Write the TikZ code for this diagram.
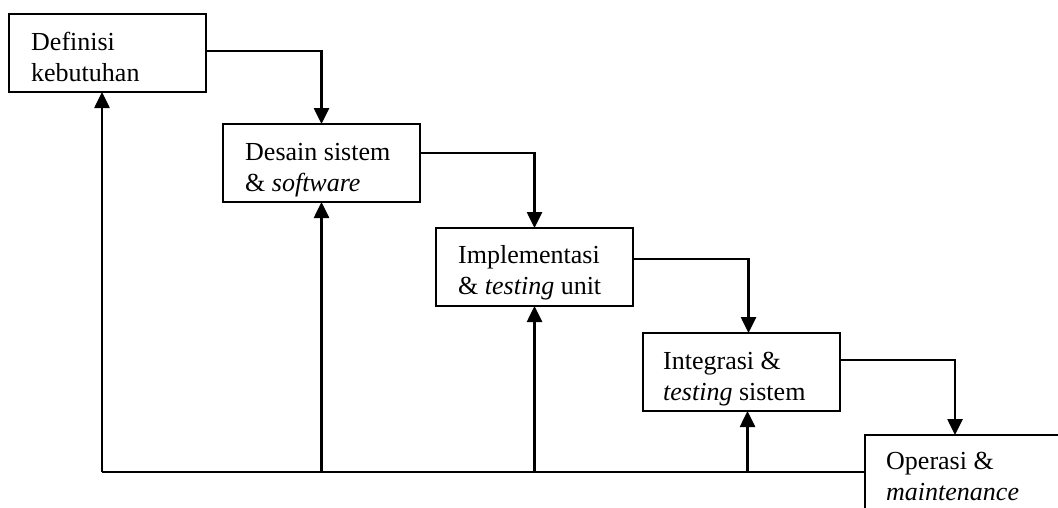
\documentclass[tikz,border=0pt]{standalone}
\usepackage{fontspec}
\setmainfont{Liberation Serif}
\usetikzlibrary{arrows.meta}
\tikzset{
  ar/.style={-{Triangle[length=16pt,width=15pt]},line width=2.6pt},
  ln/.style={line width=2.6pt},
  stagebox/.style={draw,line width=2pt,anchor=north west,inner sep=0pt,outer sep=0pt,minimum width=197pt,minimum height=78pt},
  lbl/.style={anchor=base west,align=left,inner sep=0pt,font=\fontsize{26}{31}\selectfont}
}

\begin{document}
\begin{tikzpicture}[x=1pt,y=-1pt]
\useasboundingbox (0,0) rectangle (1058,507);
\fill[white] (0,0) rectangle (1058,507);
\clip (0,0) rectangle (1058,507);
% tahapan
\node[stagebox] (def) at (9,14) {};
\node[stagebox] (des) at (223,124) {};
\node[stagebox] (imp) at (436,228) {};
\node[stagebox] (int) at (643,333) {};
\node[stagebox,minimum width=220pt,minimum height=90pt] (ops) at (865,435) {};
% base = baris terakhir
\node[lbl] (defl) at ([shift={(22,67)}]def.north west) {Definisi\\kebutuhan};
\node[lbl] (desl) at ([shift={(22,67)}]des.north west) {Desain sistem\\\& \textit{software}};
\node[lbl] (impl) at ([shift={(22,66)}]imp.north west) {Implementasi\\\& \textit{testing} unit};
\node[lbl] (intl) at ([shift={(20,67)}]int.north west) {Integrasi \&\\\textit{testing} sistem};
\node[lbl] (opsl) at ([shift={(21,65)}]ops.north west) {Operasi \&\\\textit{maintenance}};
% alur turun
\draw[ar] ([yshift=2pt]def.east) -| (des.north);
\draw[ar] ([yshift=10pt]des.east) -| (imp.north);
\draw[ar] ([yshift=8pt]imp.east) -| ([xshift=7pt]int.north);
\draw[ar] ([yshift=12pt]int.east) -| ([xshift=90pt]ops.north west);
% umpan balik
\coordinate (fb) at (102,472);
\coordinate (intin) at ([xshift=6pt]int.south);
\draw[ln] (fb) -- (fb -| ops.west);
\draw[ar] (fb) -- (fb |- def.south);
\draw[ar] (des.south |- fb) -- (des.south);
\draw[ar] (imp.south |- fb) -- (imp.south);
\draw[ar] (intin |- fb) -- (intin);
\end{tikzpicture}
\end{document}
